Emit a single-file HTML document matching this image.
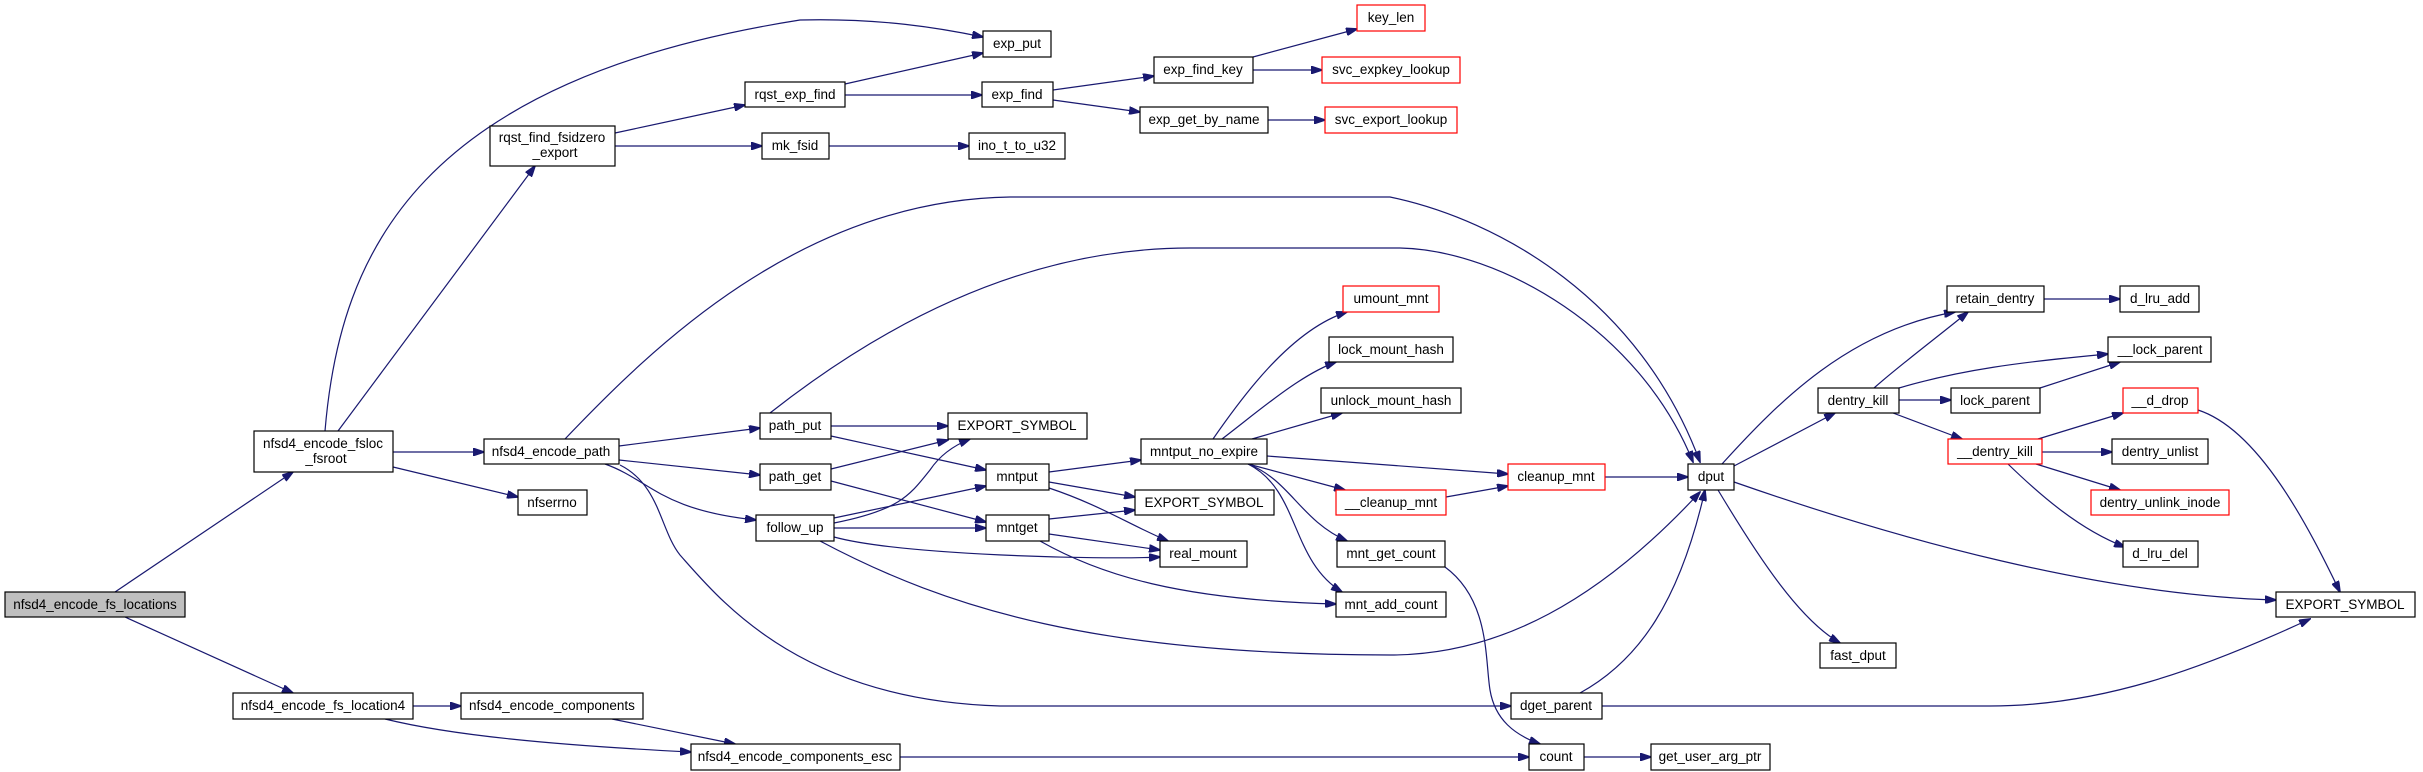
<!DOCTYPE html>
<html><head><meta charset="utf-8"><style>
html,body{margin:0;padding:0;background:#fff}
svg{display:block}
text{font-family:"Liberation Sans",Arial,sans-serif;font-size:13.5px;fill:#000;text-anchor:middle}
rect{fill:#fff;stroke:#000;stroke-width:1.2}
rect.r{stroke:#f00}
rect.g{fill:#bfbfbf}
path{fill:none;stroke:#191970;stroke-width:1.2}
</style></head><body>
<svg width="2423" height="772" viewBox="0 0 2423 772" xmlns="http://www.w3.org/2000/svg">
<defs><marker id="a" markerWidth="12" markerHeight="8" refX="11" refY="4" orient="auto" markerUnits="userSpaceOnUse"><polygon points="0,0 12,4 0,8" fill="#191970" stroke="#191970"/></marker></defs>
<g marker-end="url(#a)">
<path d="M115,592 L293,472"/>
<path d="M125,617 L293,693"/>
<path d="M325,431 C340,250 420,80 800,20 C880,18 940,28 983,37"/>
<path d="M338,431 L535,166"/>
<path d="M393,452 L484,452"/>
<path d="M393,467 L518,497"/>
<path d="M615,133 L745,105"/>
<path d="M615,146 L762,146"/>
<path d="M845,84 L983,53"/>
<path d="M845,95 L982,95"/>
<path d="M829,146 L969,146"/>
<path d="M1053,90 L1154,76"/>
<path d="M1053,100 L1140,112"/>
<path d="M1253,57 L1357,29"/>
<path d="M1253,70 L1322,70"/>
<path d="M1268,120 L1325,120"/>
<path d="M565,439 C650,350 800,200 1010,197 L1390,197 C1500,220 1640,300 1700,462"/>
<path d="M619,446 L760,428"/>
<path d="M619,460 L760,475"/>
<path d="M605,464 C650,480 660,510 756,520"/>
<path d="M620,465 C660,485 660,530 680,555 C720,600 800,700 1000,706 L1511,706"/>
<path d="M770,413 C850,350 1000,248 1190,248 L1400,248 C1500,250 1640,330 1693,462"/>
<path d="M831,426 L948,426"/>
<path d="M831,436 L986,470"/>
<path d="M831,469 L948,440"/>
<path d="M831,481 L986,522"/>
<path d="M834,523 C900,510 910,495 930,470 C940,455 955,445 970,439"/>
<path d="M834,518 L986,486"/>
<path d="M834,528 L986,528"/>
<path d="M834,537 C900,555 1100,560 1160,557"/>
<path d="M820,541 C950,610 1100,655 1390,655 C1500,655 1600,600 1700,492"/>
<path d="M1049,472 L1141,460"/>
<path d="M1049,482 L1135,497"/>
<path d="M1049,488 C1100,505 1130,525 1168,541"/>
<path d="M1049,519 L1135,510"/>
<path d="M1049,534 L1160,550"/>
<path d="M1040,541 C1100,575 1180,600 1336,604"/>
<path d="M1213,439 C1240,400 1290,330 1347,312"/>
<path d="M1222,439 C1260,410 1300,375 1336,362"/>
<path d="M1252,439 L1342,413"/>
<path d="M1267,456 L1508,474"/>
<path d="M1248,464 L1345,490"/>
<path d="M1248,464 C1290,480 1300,520 1347,541"/>
<path d="M1248,464 C1300,490 1290,560 1342,592"/>
<path d="M1446,497 L1508,486"/>
<path d="M1605,477 L1688,477"/>
<path d="M1445,567 C1490,600 1485,660 1490,690 C1495,720 1515,735 1540,744"/>
<path d="M1580,693 C1640,660 1680,600 1705,490"/>
<path d="M1602,706 L1990,706 C2100,706 2200,670 2310,619"/>
<path d="M900,757 L1529,757"/>
<path d="M1584,757 L1651,757"/>
<path d="M413,706 L461,706"/>
<path d="M385,719 C450,735 550,745 691,752"/>
<path d="M612,719 L735,744"/>
<path d="M1722,464 C1780,400 1850,330 1955,312"/>
<path d="M1734,466 L1835,413"/>
<path d="M1734,482 C1900,540 2100,595 2276,600"/>
<path d="M1718,490 C1760,560 1800,620 1840,643"/>
<path d="M2044,299 L2120,299"/>
<path d="M1874,388 C1900,365 1940,335 1968,312"/>
<path d="M1899,388 C1960,370 2020,362 2108,354"/>
<path d="M1899,400 L1951,400"/>
<path d="M1893,413 L1962,439"/>
<path d="M2040,388 L2120,362"/>
<path d="M2038,439 L2123,413"/>
<path d="M2042,452 L2112,452"/>
<path d="M2036,464 L2120,490"/>
<path d="M2008,464 C2040,495 2080,530 2125,547"/>
<path d="M2198,410 C2260,430 2310,530 2340,592"/>
</g>
<g>
<rect class="g" x="5" y="592" width="180" height="25"/><text x="95" y="609">nfsd4_encode_fs_locations</text>
<rect x="254" y="431" width="139" height="41"/><text x="323" y="448">nfsd4_encode_fsloc</text><text x="326" y="463">_fsroot</text>
<rect x="490" y="126" width="125" height="40"/><text x="552" y="142">rqst_find_fsidzero</text><text x="555" y="157">_export</text>
<rect x="745" y="82" width="100" height="25"/><text x="795" y="99">rqst_exp_find</text>
<rect x="762" y="133" width="67" height="26"/><text x="795" y="150">mk_fsid</text>
<rect x="484" y="439" width="135" height="25"/><text x="551" y="456">nfsd4_encode_path</text>
<rect x="518" y="490" width="69" height="25"/><text x="552" y="507">nfserrno</text>
<rect x="760" y="413" width="71" height="26"/><text x="795" y="430">path_put</text>
<rect x="760" y="464" width="71" height="26"/><text x="795" y="481">path_get</text>
<rect x="756" y="515" width="78" height="26"/><text x="795" y="532">follow_up</text>
<rect x="233" y="693" width="180" height="26"/><text x="323" y="710">nfsd4_encode_fs_location4</text>
<rect x="461" y="693" width="182" height="26"/><text x="552" y="710">nfsd4_encode_components</text>
<rect x="691" y="744" width="209" height="26"/><text x="795" y="761">nfsd4_encode_components_esc</text>
<rect x="983" y="31" width="68" height="26"/><text x="1017" y="48">exp_put</text>
<rect x="982" y="82" width="71" height="25"/><text x="1017" y="99">exp_find</text>
<rect x="969" y="133" width="96" height="26"/><text x="1017" y="150">ino_t_to_u32</text>
<rect x="1154" y="57" width="99" height="26"/><text x="1203" y="74">exp_find_key</text>
<rect x="1140" y="107" width="128" height="26"/><text x="1204" y="124">exp_get_by_name</text>
<rect class="r" x="1357" y="5" width="68" height="26"/><text x="1391" y="22">key_len</text>
<rect class="r" x="1322" y="57" width="138" height="26"/><text x="1391" y="74">svc_expkey_lookup</text>
<rect class="r" x="1325" y="107" width="132" height="26"/><text x="1391" y="124">svc_export_lookup</text>
<rect x="948" y="413" width="139" height="26"/><text x="1017" y="430">EXPORT_SYMBOL</text>
<rect x="986" y="464" width="63" height="26"/><text x="1017" y="481">mntput</text>
<rect x="986" y="515" width="63" height="26"/><text x="1017" y="532">mntget</text>
<rect x="1135" y="490" width="139" height="25"/><text x="1204" y="507">EXPORT_SYMBOL</text>
<rect x="1160" y="541" width="87" height="26"/><text x="1203" y="558">real_mount</text>
<rect x="1141" y="439" width="126" height="25"/><text x="1204" y="456">mntput_no_expire</text>
<rect class="r" x="1343" y="286" width="96" height="26"/><text x="1391" y="303">umount_mnt</text>
<rect x="1329" y="337" width="124" height="25"/><text x="1391" y="354">lock_mount_hash</text>
<rect x="1321" y="388" width="140" height="25"/><text x="1391" y="405">unlock_mount_hash</text>
<rect class="r" x="1508" y="464" width="97" height="26"/><text x="1556" y="481">cleanup_mnt</text>
<rect class="r" x="1336" y="490" width="110" height="25"/><text x="1391" y="507">__cleanup_mnt</text>
<rect x="1337" y="541" width="108" height="26"/><text x="1391" y="558">mnt_get_count</text>
<rect x="1336" y="592" width="110" height="25"/><text x="1391" y="609">mnt_add_count</text>
<rect x="1511" y="693" width="91" height="26"/><text x="1556" y="710">dget_parent</text>
<rect x="1529" y="744" width="55" height="26"/><text x="1556" y="761">count</text>
<rect x="1688" y="464" width="46" height="26"/><text x="1711" y="481">dput</text>
<rect x="1947" y="286" width="97" height="26"/><text x="1995" y="303">retain_dentry</text>
<rect x="2120" y="286" width="79" height="26"/><text x="2160" y="303">d_lru_add</text>
<rect x="2108" y="337" width="103" height="25"/><text x="2160" y="354">__lock_parent</text>
<rect x="1818" y="388" width="81" height="25"/><text x="1858" y="405">dentry_kill</text>
<rect x="1951" y="388" width="89" height="25"/><text x="1995" y="405">lock_parent</text>
<rect class="r" x="2123" y="388" width="75" height="25"/><text x="2160" y="405">__d_drop</text>
<rect class="r" x="1948" y="439" width="94" height="25"/><text x="1995" y="456">__dentry_kill</text>
<rect x="2112" y="439" width="96" height="25"/><text x="2160" y="456">dentry_unlist</text>
<rect class="r" x="2091" y="490" width="138" height="25"/><text x="2160" y="507">dentry_unlink_inode</text>
<rect x="2123" y="541" width="75" height="26"/><text x="2160" y="558">d_lru_del</text>
<rect x="2276" y="592" width="139" height="25"/><text x="2345" y="609">EXPORT_SYMBOL</text>
<rect x="1820" y="643" width="76" height="25"/><text x="1858" y="660">fast_dput</text>
<rect x="1651" y="744" width="119" height="26"/><text x="1710" y="761">get_user_arg_ptr</text>
</g>
</svg>
</body></html>
